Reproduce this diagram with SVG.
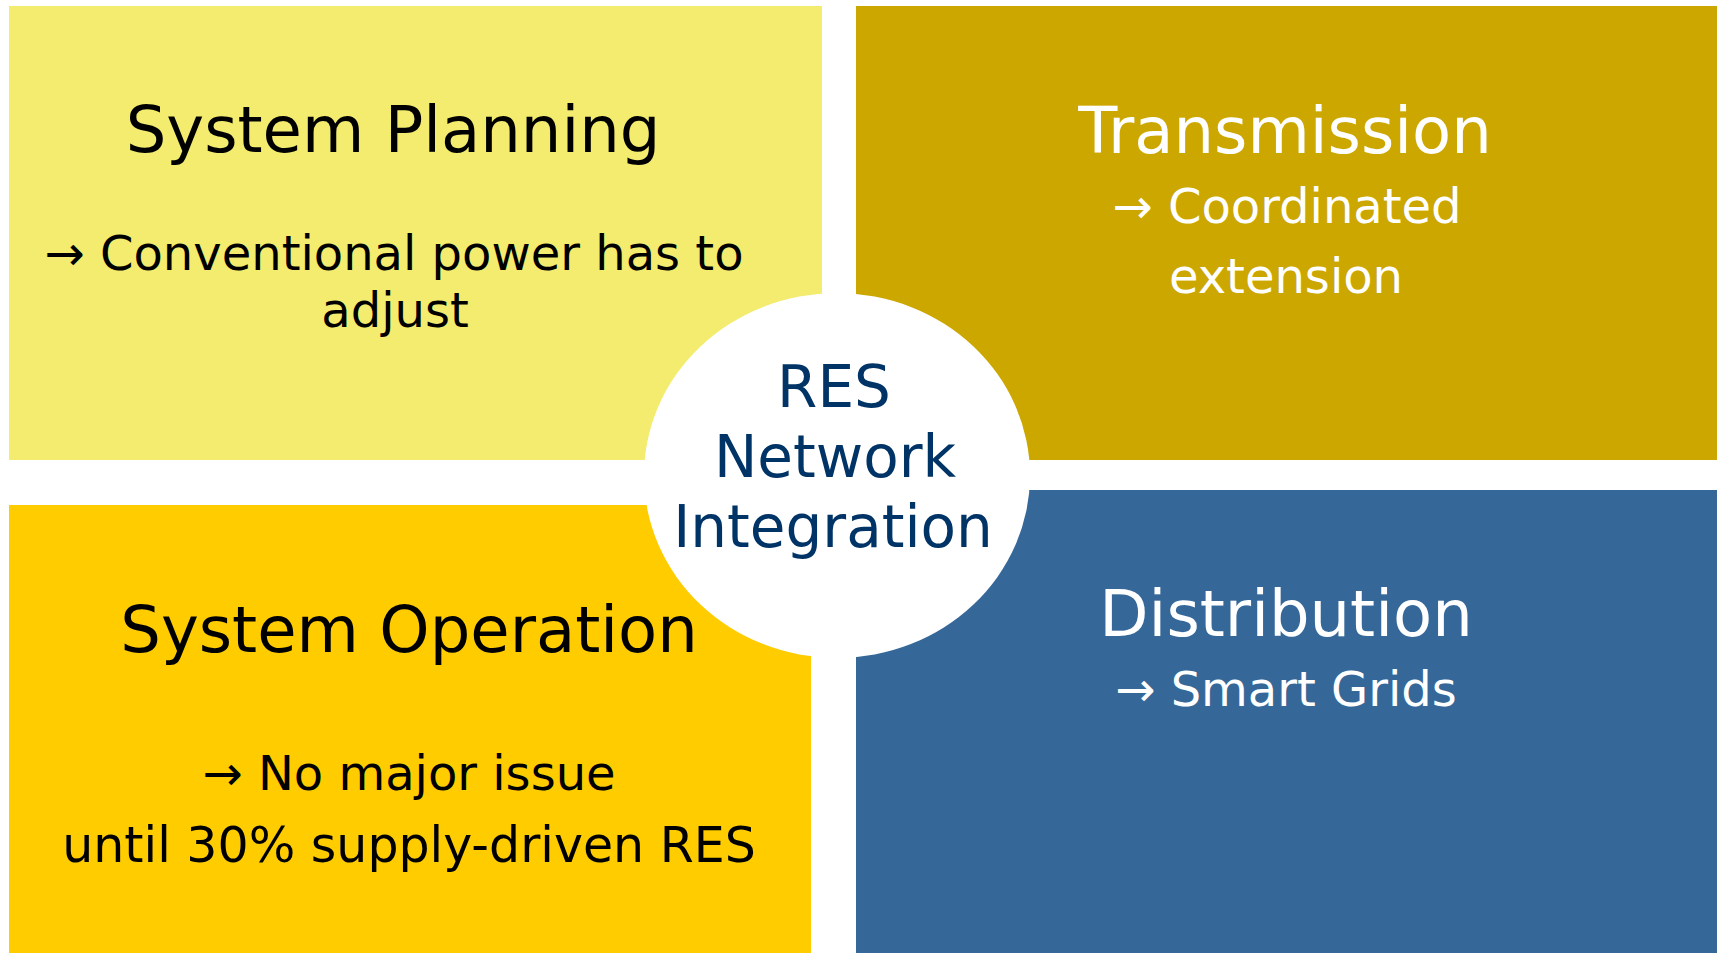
<svg xmlns="http://www.w3.org/2000/svg" width="1723" height="953" viewBox="0 0 1723 953">
  <style>
    text { font-family: "DejaVu Sans", Verdana, sans-serif; text-anchor: middle; }
    .title { font-size: 64px; }
    .body { font-size: 48px; }
    .dark { fill: #000000; }
    .light { fill: #ffffff; }
    .hub { font-size: 58px; fill: #003366; }
  </style>
  <rect width="1723" height="953" fill="#ffffff"/>

  <!-- quadrant: system planning -->
  <g id="planning">
    <rect x="9" y="6" width="813" height="454" fill="#F3EC6E"/>
    <text class="title dark" x="393" y="152">System Planning</text>
    <text class="body dark" x="394" y="270">→ Conventional power has to</text>
    <text class="body dark" x="395" y="327">adjust</text>
  </g>

  <!-- quadrant: transmission -->
  <g id="transmission">
    <rect x="856" y="6" width="861" height="454" fill="#CCA700"/>
    <text class="title light" x="1285" y="153">Transmission</text>
    <text class="body light" x="1287" y="223">→ Coordinated</text>
    <text class="body light" x="1286" y="293">extension</text>
  </g>

  <!-- quadrant: system operation -->
  <g id="operation">
    <rect x="9" y="505" width="802" height="448" fill="#FFCC00"/>
    <text class="title dark" x="409" y="652">System Operation</text>
    <text class="body dark" x="409" y="790">→ No major issue</text>
    <text class="body dark" x="409" y="862" style="font-size:49px">until 30% supply-driven RES</text>
  </g>

  <!-- quadrant: distribution -->
  <g id="distribution">
    <rect x="856" y="490" width="861" height="463" fill="#356899"/>
    <text class="title light" x="1286" y="636">Distribution</text>
    <text class="body light" x="1286" y="706">→ Smart Grids</text>
  </g>

  <!-- central hub -->
  <g id="hub">
    <ellipse cx="837" cy="475.5" rx="193" ry="182.5" fill="#ffffff"/>
    <text class="hub" x="834" y="407">RES</text>
    <text class="hub" x="835" y="477">Network</text>
    <text class="hub" x="833" y="547">Integration</text>
  </g>

  <g id="connectors"/>
</svg>
